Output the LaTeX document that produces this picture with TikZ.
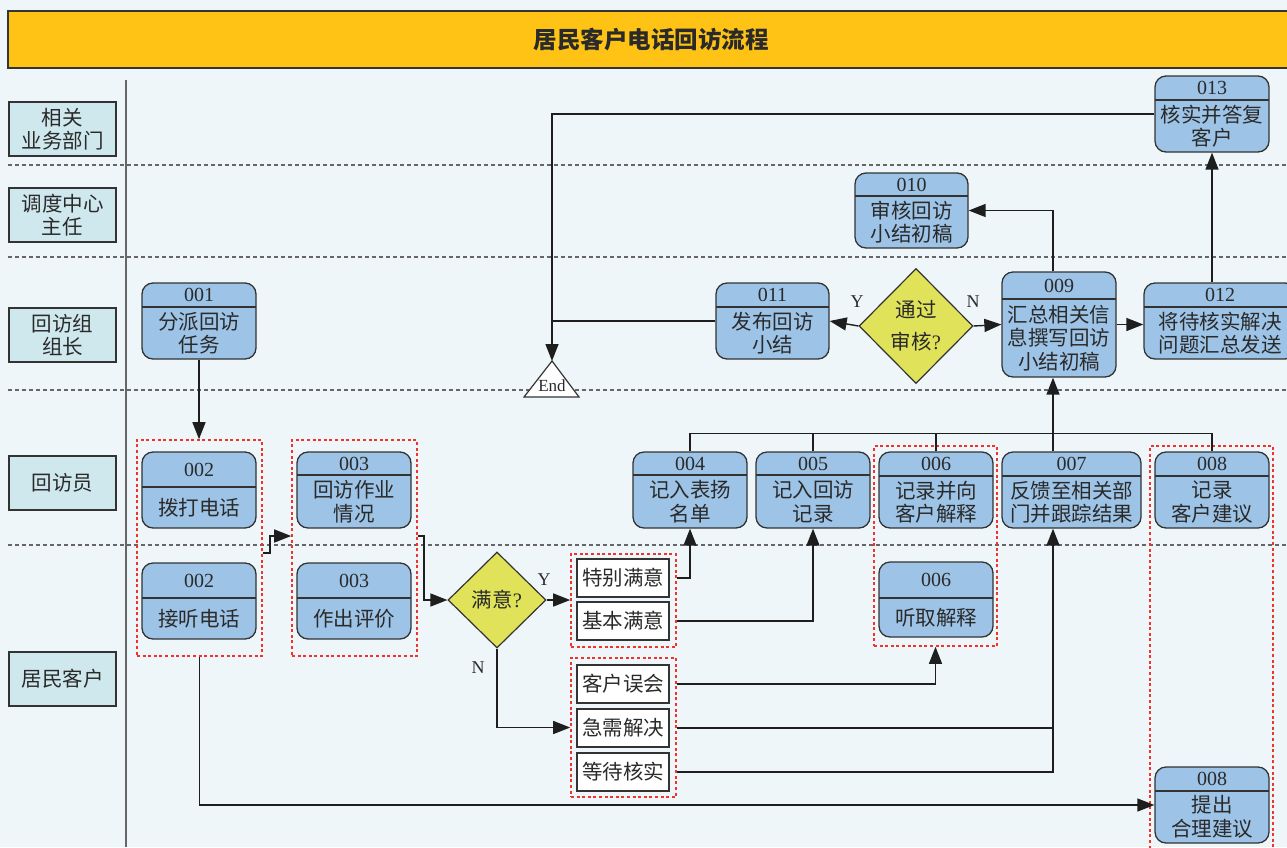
\documentclass[tikz,border=0pt]{standalone}
\usepackage{fontspec}
\setmainfont{Liberation Serif}
\newfontfamily\cjk{Noto Sans CJK SC}
\usetikzlibrary{arrows.meta,shapes.geometric,fit,calc}
\definecolor{bg}{HTML}{EFF6FA}
\definecolor{titlebar}{HTML}{FEC315}
\definecolor{lanefill}{HTML}{CFE8EE}
\definecolor{nodeblue}{HTML}{9DC3E6}
\definecolor{diayellow}{HTML}{E0E35A}
\definecolor{reddash}{HTML}{F0342C}
\definecolor{edge}{HTML}{333333}
\definecolor{linecol}{HTML}{1E1E1E}
\definecolor{txt}{HTML}{2A2A2A}
\definecolor{lanegray}{HTML}{666666}
\tikzset{
  procbox/.style={draw=edge, fill=nodeblue, rounded corners=11pt, line width=1.3pt, inner sep=0pt},
  divline/.style={draw=edge, line width=1.3pt},
  numtxt/.style={font=\fontsize{20}{22}\selectfont, text=txt, inner sep=0pt},
  ctext/.style={font=\cjk\fontsize{20.5}{23.5}\selectfont, text=txt, align=center, inner sep=0pt},
  lanebox/.style={draw=edge, fill=lanefill, line width=1.2pt, minimum width=107pt, minimum height=54pt, inner sep=0pt, font=\cjk\fontsize{20.5}{23.5}\selectfont, text=txt, align=center},
  grp/.style={draw=reddash, line width=1.6pt, dash pattern=on 3pt off 2.6pt, inner sep=0pt},
  optbox/.style={draw=edge, fill=white, line width=1.2pt, inner sep=0pt},
  decision/.style={diamond, draw=edge, fill=diayellow, line width=1.2pt, inner sep=0pt},
  arr/.style={-{Triangle[length=17pt,width=13pt]}, line width=1.4pt, draw=linecol},
  conn/.style={line width=1.4pt, draw=linecol},
  lanedash/.style={draw=lanegray, line width=1.2pt, dash pattern=on 4pt off 3pt},
  yn/.style={font=\fontsize{18}{20}\selectfont, text=txt, inner sep=0pt},
}
\newcommand\proc[8]{%
  \node[procbox, fit={(#2,#3) (#4,#5)}] (#1) {};
  \draw[divline] (#2,#6) -- (#4,#6);
  \node[numtxt] at ({(#2+#4)/2},{(#3+#6)/2}) {#7};
  \node[ctext] at ({(#2+#4)/2},{(#6+#5)/2}) {#8};
}
\begin{document}
\begin{tikzpicture}[x=1pt,y=-1pt]
\useasboundingbox (0,0) rectangle (1287,847);
\fill[bg] (0,0) rectangle (1287,847);
% title
\node[draw=edge, fill=titlebar, line width=1.2pt, inner sep=0pt, fit={(8,11) (1300,68)}] (title) {};
\node[font=\cjk\bfseries\fontsize{23.5}{26}\selectfont, text=txt] at (651,40) {居民客户电话回访流程};
% lanes
\draw[lanedash] (8,165) -- (1287,165);
\draw[lanedash] (8,257) -- (1287,257);
\draw[lanedash] (8,390) -- (1287,390);
\draw[lanedash] (8,545) -- (1287,545);
\draw[draw=lanegray, line width=1.5pt] (126,80) -- (126,847);
\node[lanebox] (L1) at (62.5,129) {相关\\业务部门};
\node[lanebox] (L2) at (62.5,215) {调度中心\\主任};
\node[lanebox] (L3) at (62.5,335) {回访组\\组长};
\node[lanebox] (L4) at (62.5,483) {回访员};
\node[lanebox] (L5) at (62.5,679) {居民客户};
% groups
\node[grp, fit={(137,440) (262,656)}] (g1) {};
\node[grp, fit={(292,440) (417,656)}] (g2) {};
\node[grp, fit={(571,554) (676,647)}] (g3) {};
\node[grp, fit={(571,658) (676,797)}] (g4) {};
\node[grp, fit={(874,446) (997,646)}] (g5) {};
\node[grp, fit={(1150,446) (1273,870)}] (g6) {};
% process nodes
\proc{n001}{142}{283}{256}{359}{307}{001}{分派回访\\任务}
\proc{n002a}{142}{452}{256}{528}{487}{002}{拨打电话}
\proc{n002b}{142}{563}{256}{639}{598}{002}{接听电话}
\proc{n003a}{297}{452}{411}{528}{475}{003}{回访作业\\情况}
\proc{n003b}{297}{563}{411}{639}{598}{003}{作出评价}
\proc{n004}{633}{452}{747}{528}{475}{004}{记入表扬\\名单}
\proc{n005}{756}{452}{870}{528}{475}{005}{记入回访\\记录}
\proc{n006a}{879}{452}{993}{528}{476}{006}{记录并向\\客户解释}
\proc{n006b}{879}{562}{993}{637}{598}{006}{听取解释}
\proc{n007}{1002}{452}{1141}{528}{476}{007}{反馈至相关部\\门并跟踪结果}
\proc{n008a}{1155}{452}{1269}{528}{476}{008}{记录\\客户建议}
\proc{n008b}{1155}{767}{1269}{843}{791}{008}{提出\\合理建议}
\proc{n009}{1002}{272}{1116}{377}{299}{009}{汇总相关信\\息撰写回访\\小结初稿}
\proc{n010}{855}{173}{968}{248}{196}{010}{审核回访\\小结初稿}
\proc{n011}{716}{283}{829}{359}{307}{011}{发布回访\\小结}
\proc{n012}{1144}{283}{1296}{359}{307}{012}{将待核实解决\\问题汇总发送}
\proc{n013}{1155}{76}{1269}{152}{100}{013}{核实并答复\\客户}
% option boxes
\node[optbox, fit={(577,559) (669,597)}] (b1) {};
\node[ctext] at (b1) {特别满意};
\node[optbox, fit={(577,602) (669,640)}] (b2) {};
\node[ctext] at (b2) {基本满意};
\node[optbox, fit={(577,665) (669,703)}] (b3) {};
\node[ctext] at (b3) {客户误会};
\node[optbox, fit={(577,709) (669,747)}] (b4) {};
\node[ctext] at (b4) {急需解决};
\node[optbox, fit={(577,753) (669,791)}] (b5) {};
\node[ctext] at (b5) {等待核实};
% decisions
\node[decision, minimum width=98pt, minimum height=96pt] (q1) at (497,600) {};
\node[font=\fontsize{20.5}{23.5}\selectfont, text=txt] at (q1) {{\cjk 满意}?};
\node[decision, minimum width=114pt, minimum height=115pt] (q2) at (916,326) {};
\node[font=\fontsize{20.5}{32}\selectfont, text=txt, align=center, inner sep=0pt] at (q2) {{\cjk 通过}\\{\cjk 审核}?};
% end
\coordinate (endtop) at (552,361);
\draw[draw=edge, fill=white, line width=1.2pt] (524,397) -- (endtop) -- (579,397) -- cycle;
\node[font=\fontsize{17}{19}\selectfont, text=txt, inner sep=0pt] (endlbl) at (552,386) {End};
\coordinate (v7) at (1053,0);
% connectors
\draw[arr] (n001.south) -- (n001.south |- g1.north);
\draw[arr] ([yshift=-5pt]g1.east) -- ++(7,0) |- ([yshift=12pt]g2.west);
\draw[arr] ([yshift=12pt]g2.east) -- ++(6,0) |- (q1.west);
\draw[arr] (q1.east) -- (q1.east -| g3.west);
\draw[arr] (q1.south) |- (g4.west);
\draw[arr] (g3.east |- b1.east) -| (n004.south);
\draw[arr] (g3.east |- b2.east) -| (n005.south);
\draw[arr] (g4.east |- b3.east) -| (g5.south);
\draw[arr] (g4.east |- b4.east) -| (v7 |- n007.south);
\draw[conn] (g4.east |- b5.east) -| (v7 |- b4.east);
\draw[arr] (g1.south) |- (n008b.west);
% bus
\draw[conn] (n004.north) -- ++(0,-18) -| (n008a.north);
\draw[conn] (n005.north) -- ++(0,-18);
\draw[conn] (n006a.north) -- ++(0,-18);
\draw[arr] (v7 |- n007.north) -- (v7 |- n009.south);
% upper part
\draw[arr] (q2.west) -- (n011.east);
\draw[arr] (q2.east) -- (n009.west);
\draw[arr] (n009.east) -- (n009.east -| n012.west);
\draw[arr] (v7 |- n009.north) |- (n010.east);
\draw[arr] (n013.south |- n012.north) -- (n013.south);
\draw[arr] (n013.west) -| (endtop);
\draw[conn] (n011.west) -- (n011.west -| endtop);
% labels
\node[yn] at (544,580) {Y};
\node[yn] at (478,668) {N};
\node[yn] at (857,302) {Y};
\node[yn] at (973,302) {N};
\end{tikzpicture}
\end{document}
